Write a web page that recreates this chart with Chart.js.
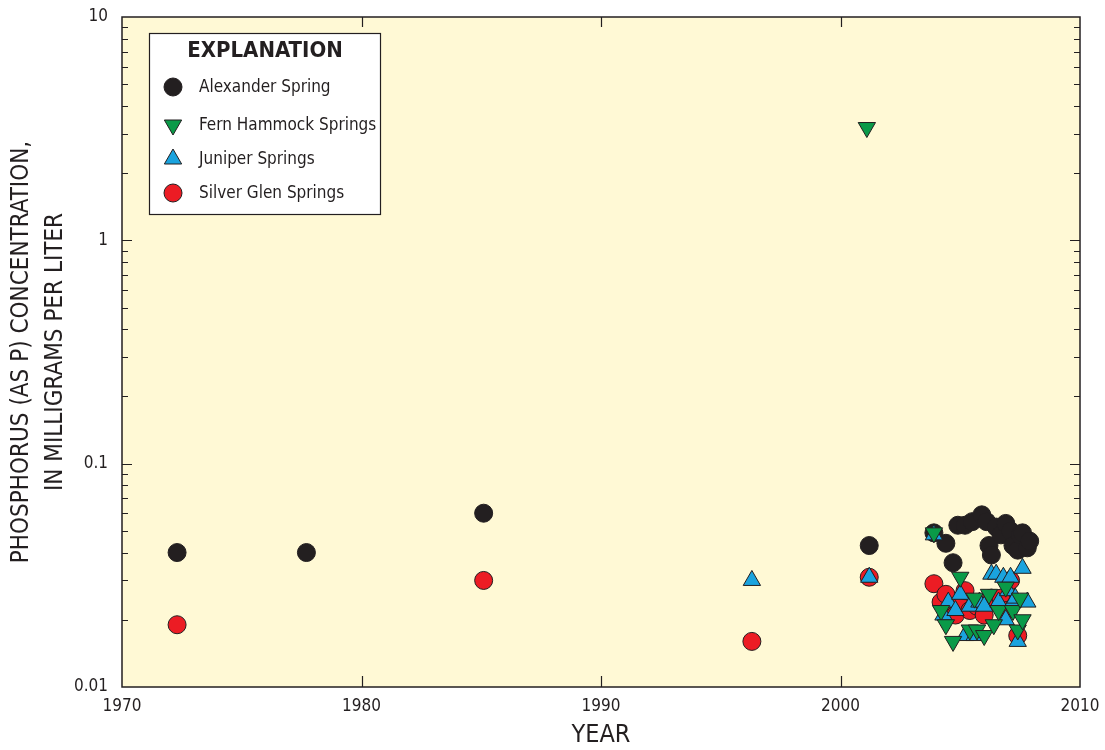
<!DOCTYPE html>
<html>
<head>
<meta charset="utf-8">
<script src="https://cdn.jsdelivr.net/npm/chart.js@4/dist/chart.umd.min.js"></script>
<style>
  body { margin: 0; background: #fff; }
  canvas { display: block; }
</style>
</head>
<body>
<canvas id="myChart" width="1105" height="750"></canvas>
<script>
/* ---------- DATA ---------- */
const alexYears = [1972.3, 1977.7, 1985.1, 2001.2, 2003.9, 2004.4, 2004.7, 2004.9, 2005.2, 2005.5, 2005.9, 2006.1,
    2006.2, 2006.3, 2006.5, 2006.7, 2006.9, 2007.1, 2007.2, 2007.4, 2007.5, 2007.6, 2007.8, 2007.9];
const alexValues = [0.04, 0.04, 0.06, 0.043, 0.049, 0.044, 0.036, 0.053, 0.053, 0.055, 0.059, 0.055,
    0.043, 0.039, 0.052, 0.048, 0.054, 0.05, 0.043, 0.041, 0.048, 0.049, 0.042, 0.045];

const fernYears = [2001.1, 2003.9, 2004.2, 2004.4, 2004.7, 2005.0, 2005.4, 2005.6, 2005.7, 2006.0, 2006.2,
    2006.4, 2006.6, 2006.9, 2007.2, 2007.4, 2007.5, 2007.6];
const fernValues = [3.2, 0.049, 0.022, 0.019, 0.016, 0.031, 0.018, 0.025, 0.018, 0.017, 0.026,
    0.019, 0.022, 0.028, 0.022, 0.018, 0.025, 0.020];

const juniperYears = [1996.3, 2001.2, 2003.9, 2004.3, 2004.5, 2004.8, 2005.0, 2005.2, 2005.4, 2005.6, 2005.8,
    2006.0, 2006.3, 2006.5, 2006.6, 2006.8, 2006.9, 2007.0, 2007.1, 2007.2, 2007.3, 2007.4, 2007.6, 2007.8];
const juniperValues = [0.03, 0.031, 0.048, 0.021, 0.024, 0.022, 0.026, 0.017, 0.023, 0.017, 0.024,
    0.023, 0.032, 0.032, 0.024, 0.031, 0.020, 0.027, 0.031, 0.024, 0.025, 0.016, 0.034, 0.024];

const silverYears = [1972.3, 1985.1, 1996.3, 2001.2, 2003.9, 2004.2, 2004.4, 2004.6, 2004.8, 2005.0, 2005.2,
    2005.4, 2005.7, 2006.0, 2006.3, 2006.7, 2006.9, 2007.1, 2007.4];
const silverValues = [0.019, 0.03, 0.016, 0.031, 0.029, 0.024, 0.026, 0.022, 0.021, 0.023, 0.027,
    0.022, 0.023, 0.021, 0.025, 0.025, 0.022, 0.03, 0.017];

const xTicks = [1970, 1980, 1990, 2000, 2010];
const yTicks = [0.01, 0.1, 1, 10];
const yTickLabels = ['0.01', '0.1', '1', '10'];

/* ---------- STYLE ---------- */
const FONT = "'Liberation Sans Narrow', 'DejaVu Sans Condensed', 'Liberation Sans', sans-serif";
const INK = '#231F20';
const PLOT_BG = '#FFF9D5';

const series = [
    { label: 'Alexander Spring', years: alexYears, values: alexValues, style: 'circle', color: INK, radius: 9, rotation: 0, order: 3 },
    { label: 'Fern Hammock Springs', years: fernYears, values: fernValues, style: 'triangle', color: '#0A9A48', radius: 10, rotation: 180, order: 0 },
    { label: 'Juniper Springs', years: juniperYears, values: juniperValues, style: 'triangle', color: '#1AA3DE', radius: 10, rotation: 0, order: 1 },
    { label: 'Silver Glen Springs', years: silverYears, values: silverValues, style: 'circle', color: '#EC1C24', radius: 9, rotation: 0, order: 2 }
];

/* ---------- PLUGINS ---------- */
const plotBackground = {
    id: 'plotBackground',
    beforeDraw(chart) {
        const { ctx, chartArea: a } = chart;
        ctx.save();
        ctx.fillStyle = PLOT_BG;
        ctx.fillRect(a.left, a.top, a.right - a.left, a.bottom - a.top);
        ctx.restore();
    }
};

const frameAndTicks = {
    id: 'frameAndTicks',
    afterDatasetsDraw(chart) {
        const { ctx, chartArea: a, scales: { x, y } } = chart;
        ctx.save();
        ctx.strokeStyle = INK;
        ctx.lineWidth = 1.5;
        ctx.strokeRect(a.left, a.top, a.right - a.left, a.bottom - a.top);

        ctx.lineWidth = 1.2;
        ctx.beginPath();
        // x major ticks, bottom and top
        xTicks.slice(1, -1).forEach(v => {
            const px = Math.round(x.getPixelForValue(v)) + 0.5;
            ctx.moveTo(px, a.bottom); ctx.lineTo(px, a.bottom - 11);
            ctx.moveTo(px, a.top); ctx.lineTo(px, a.top + 10);
        });
        // y major + minor ticks, left and right
        for (let d = 0; d < yTicks.length - 1; d++) {
            for (let m = 1; m <= 9; m++) {
                const v = yTicks[d] * m;
                if (m === 1 && d === 0) continue;
                const py = Math.round(y.getPixelForValue(v)) + 0.5;
                const len = m === 1 ? 10 : 6;
                ctx.moveTo(a.left, py); ctx.lineTo(a.left + len, py);
                ctx.moveTo(a.right, py); ctx.lineTo(a.right - len, py);
            }
        }
        ctx.stroke();
        ctx.restore();
    }
};

const explanationBox = {
    id: 'explanationBox',
    afterDraw(chart) {
        const ctx = chart.ctx;
        const box = { left: 149, top: 33, width: 231, height: 181 };
        ctx.save();
        ctx.fillStyle = '#ffffff';
        ctx.fillRect(box.left, box.top, box.width, box.height);
        ctx.strokeStyle = INK;
        ctx.lineWidth = 1.2;
        ctx.strokeRect(box.left + 0.5, box.top + 0.5, box.width, box.height);

        ctx.fillStyle = INK;
        ctx.textAlign = 'center';
        ctx.textBaseline = 'middle';
        ctx.font = "bold 22px " + FONT;
        ctx.fillText('EXPLANATION', box.left + 116, box.top + 18);

        const rows = [87, 125, 159, 193];
        ctx.font = "17px " + FONT;
        ctx.textAlign = 'left';
        series.forEach((s, i) => {
            ctx.fillStyle = s.color;
            ctx.strokeStyle = INK;
            ctx.lineWidth = 1;
            Chart.helpers.drawPoint(ctx, {
                pointStyle: s.style, radius: s.radius, rotation: s.rotation, borderWidth: 1
            }, 173, rows[i]);
            ctx.fillStyle = INK;
            ctx.fillText(s.label, 199, rows[i] + 1);
        });
        ctx.restore();
    }
};

/* ---------- CHART ---------- */
const ctx = document.getElementById('myChart').getContext('2d');

new Chart(ctx, {
    type: 'scatter',
    data: {
        datasets: series.map(s => ({
            label: s.label,
            data: s.years.map((yr, i) => ({ x: yr, y: s.values[i] })),
            pointStyle: s.style,
            pointRadius: s.radius,
            pointHoverRadius: s.radius,
            pointRotation: s.rotation,
            backgroundColor: s.color,
            borderColor: INK,
            borderWidth: 1,
            order: s.order,
            clip: false
        }))
    },
    options: {
        responsive: false,
        animation: false,
        layout: { padding: { left: 0, right: 25, top: 17, bottom: 0 } },
        plugins: {
            legend: { display: false },
            tooltip: { enabled: false }
        },
        scales: {
            x: {
                type: 'linear',
                min: 1970,
                max: 2010,
                afterBuildTicks: scale => { scale.ticks = xTicks.map(v => ({ value: v })); },
                afterFit: scale => {
                    scale.height = 63;
                    scale.paddingLeft = 0;
                    scale.paddingRight = 0;
                },
                grid: { display: false, drawTicks: false },
                border: { display: false },
                ticks: {
                    padding: 9,
                    color: INK,
                    font: { family: FONT, size: 17 },
                    maxRotation: 0,
                    callback: v => String(v)
                },
                title: {
                    display: true,
                    text: 'YEAR',
                    color: INK,
                    font: { family: FONT, size: 25, lineHeight: 1.2 },
                    padding: { top: 0, bottom: 0 }
                }
            },
            y: {
                type: 'logarithmic',
                min: 0.01,
                max: 10,
                afterBuildTicks: scale => { scale.ticks = yTicks.map(v => ({ value: v })); },
                afterFit: scale => {
                    scale.width = 122;
                    scale.paddingTop = 0;
                    scale.paddingBottom = 0;
                },
                grid: { display: false, drawTicks: false },
                border: { display: false },
                ticks: {
                    padding: 14,
                    color: INK,
                    font: { family: FONT, size: 17 },
                    callback: (v, i) => yTickLabels[i]
                },
                title: {
                    display: true,
                    text: ['PHOSPHORUS (AS P) CONCENTRATION,', 'IN MILLIGRAMS PER LITER'],
                    color: INK,
                    font: { family: FONT, size: 24, lineHeight: 1.42 },
                    padding: { top: 5, bottom: 0 }
                }
            }
        }
    },
    plugins: [plotBackground, frameAndTicks, explanationBox]
});
</script>
</body>
</html>
